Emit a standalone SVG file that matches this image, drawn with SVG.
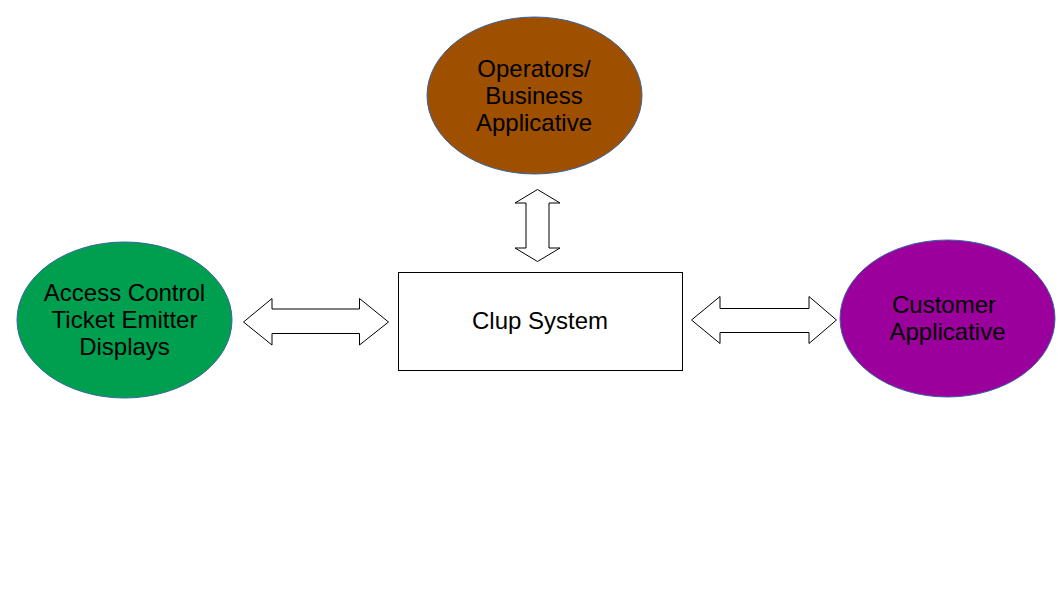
<svg xmlns="http://www.w3.org/2000/svg" width="1058" height="595" viewBox="0 0 1058 595">
<style>
.lbl{font-family:"Liberation Sans",Arial,sans-serif;font-size:24px;fill:#000;text-anchor:middle}
.ell{stroke:#3465a4;stroke-width:1}
.arr{fill:#fff;stroke:#000;stroke-width:1;stroke-linejoin:miter}
</style>
<rect width="1058" height="595" fill="#fff"/>
<g id="operators">
<ellipse class="ell" cx="534.5" cy="95.5" rx="107.5" ry="78.5" fill="#9e4f00"/>
<text class="lbl" x="534" y="77">Operators/</text>
<text class="lbl" x="534" y="104">Business</text>
<text class="lbl" x="534" y="131">Applicative</text>
</g>
<g id="access">
<ellipse class="ell" cx="124.5" cy="320" rx="107.5" ry="78" fill="#009f4f"/>
<text class="lbl" x="124.5" y="301">Access Control</text>
<text class="lbl" x="124.5" y="328">Ticket Emitter</text>
<text class="lbl" x="124.5" y="355">Displays</text>
</g>
<g id="customer">
<ellipse class="ell" cx="947.5" cy="318.5" rx="107.5" ry="78.5" fill="#9c009c"/>
<text class="lbl" x="944" y="313">Customer</text>
<text class="lbl" x="947.5" y="340">Applicative</text>
</g>
<g id="clup">
<rect x="398.5" y="272.5" width="284" height="98" fill="#fff" stroke="#000" stroke-width="1"/>
<text class="lbl" x="540" y="329">Clup System</text>
</g>
<g id="connectors">
<polygon class="arr" points="537.5,189.5 560,203 549,203 549,248 560,248 537.5,261.5 515,248 526,248 526,203 515,203"/>
<polygon class="arr" points="243.5,322 272,298.5 272,309 359.5,309 359.5,298.5 388.5,322 359.5,345 359.5,333.5 272,333.5 272,345"/>
<polygon class="arr" points="691.5,320 720,296.5 720,308.5 809,308.5 809,296.5 836.5,320 809,343.5 809,332.5 720,332.5 720,343.5"/>
</g>
</svg>
